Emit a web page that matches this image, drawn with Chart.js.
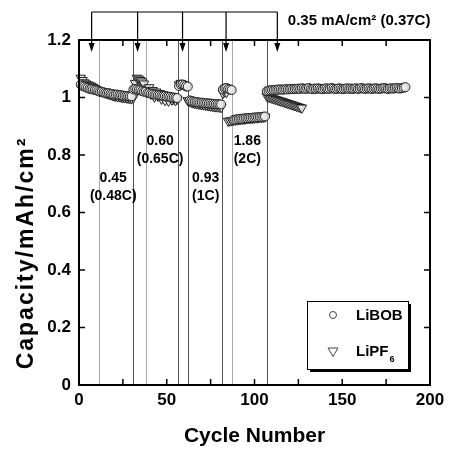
<!DOCTYPE html>
<html>
<head>
<meta charset="utf-8">
<script src="https://cdn.jsdelivr.net/npm/chart.js@4"></script>
<style>
    body { margin: 0; background: #fff; }
    #wrap { width: 450px; height: 449px; position: relative; }
</style>
</head>
<body>
<div id="wrap"><canvas id="capChart"></canvas></div>
<script>
// capacity per cycle, index 0 = cycle 1
const capacity_LiBOB = [
    1.045, 1.040, 1.038, 1.035, 1.033, 1.030, 1.030, 1.028, 1.026, 1.025,
    1.022, 1.020, 1.020, 1.018, 1.016, 1.015, 1.015, 1.013, 1.012, 1.010,
    1.010, 1.010, 1.008, 1.008, 1.006, 1.006, 1.005, 1.005, 1.004, 1.004,
    1.028, 1.030, 1.028, 1.026, 1.025, 1.022, 1.020, 1.020,
    1.016, 1.015, 1.013, 1.012, 1.010, 1.010, 1.008, 1.008, 1.006, 1.005,
    1.005, 1.003, 1.003, 1.002, 1.000, 1.000, 0.999, 0.998,
    1.040, 1.045, 1.045, 1.043, 1.040, 1.038,
    0.990, 0.988, 0.986, 0.985, 0.984, 0.983, 0.982, 0.982, 0.981, 0.980,
    0.980, 0.979, 0.979, 0.978, 0.978, 0.977, 0.977, 0.976, 0.976,
    1.028, 1.032, 1.033, 1.030, 1.028, 1.026,
    0.922, 0.923, 0.924, 0.925, 0.926, 0.926, 0.927, 0.928, 0.928, 0.929,
    0.929, 0.930, 0.930, 0.931, 0.931, 0.932, 0.932, 0.933, 0.934,
    1.022, 1.024, 1.025, 1.026, 1.026, 1.027, 1.027, 1.028, 1.028, 1.027,
    1.028, 1.029, 1.028, 1.029, 1.030, 1.029, 1.030, 1.030, 1.031, 1.030,
    1.032, 1.031, 1.030, 1.031, 1.033, 1.030, 1.029, 1.031, 1.030, 1.032,
    1.031, 1.030, 1.029, 1.031, 1.032, 1.030, 1.031, 1.033, 1.031, 1.030,
    1.030, 1.032, 1.031, 1.029, 1.030, 1.031, 1.032, 1.030, 1.031, 1.030,
    1.031, 1.032, 1.030, 1.031, 1.033, 1.031, 1.030, 1.031, 1.032, 1.031,
    1.030, 1.031, 1.032, 1.031, 1.030, 1.031, 1.032, 1.033, 1.031, 1.030,
    1.031, 1.032, 1.031, 1.032, 1.033, 1.032, 1.031, 1.033, 1.034, 1.036
];

const capacity_LiPF6 = [
    1.068, 1.060, 1.052, 1.048, 1.045, 1.042, 1.040, 1.036, 1.032, 1.028,
    1.025, 1.022, 1.020, 1.018, 1.016, 1.014, 1.012, 1.010, 1.008, 1.006,
    1.005, 1.004, 1.003, 1.002, 1.000, 1.000, 0.999, 0.998, 0.997, 0.996,
    1.000, 1.050, 1.068, 1.065, 1.060, 1.055, 1.048,
    1.030, 1.020, 1.035, 1.012, 1.025, 1.002, 1.020, 1.005, 1.015, 0.995,
    1.010, 0.990, 1.005, 0.988, 1.000, 0.992, 0.995, 0.990, 0.995,
    1.045, 1.050, 1.046, 1.042, 1.040,
    0.990, 0.986, 0.984, 0.982, 0.980, 0.979, 0.978, 0.977, 0.976, 0.975,
    0.974, 0.973, 0.972, 0.971, 0.970, 0.969, 0.968, 0.968, 0.967, 0.966,
    1.015, 1.020, 1.018,
    0.918, 0.919, 0.920, 0.921, 0.922, 0.923, 0.923, 0.924, 0.925, 0.925,
    0.926, 0.927, 0.927, 0.928, 0.928, 0.929, 0.930, 0.930, 0.931, 0.931,
    0.932, 0.933,
    1.005, 1.002, 1.000, 0.998, 0.996, 0.994, 0.992, 0.990, 0.988, 0.986,
    0.984, 0.982, 0.980, 0.978, 0.976, 0.974, 0.972, 0.970, 0.968, 0.966,
    0.964
];

// cycles where the current density changes
const switchLight = [11.6, 38.2, 87];
const switchDark = [30.6, 56.6, 62.3, 81.3, 107];
// 0.35 mA/cm2 recovery cycles (bracket arrows)
const recoveryCycles = [7.2, 33.4, 59, 83.8, 113];

const rateText = [
    ['0.45', '(0.48C)'],
    ['0.60', '(0.65C)'],
    ['0.93', '(1C)'],
    ['1.86', '(2C)']
];
const rateTextAt = [[19.5, 0.72], [46.2, 0.849], [72.2, 0.72], [95.9, 0.849]];

const FONT = "'Liberation Sans', Arial, sans-serif";

const toPoints = (arr) => arr.map((v, i) => ({ x: i + 1, y: v }));

function drawDownTriangle(ctx, cx, cy, r) {
    ctx.beginPath();
    ctx.moveTo(cx - r, cy - r * 0.6);
    ctx.lineTo(cx + r, cy - r * 0.6);
    ctx.lineTo(cx, cy + r * 1.1);
    ctx.closePath();
}

const overlay = {
    id: 'overlay',
    beforeDatasetsDraw(chart) {
        const { ctx, chartArea: a, scales: { x } } = chart;
        ctx.save();
        ctx.lineWidth = 1;
        switchLight.forEach(c => {
            const px = Math.round(x.getPixelForValue(c)) + 0.5;
            ctx.strokeStyle = '#a8a8a8';
            ctx.beginPath(); ctx.moveTo(px, a.top); ctx.lineTo(px, a.bottom); ctx.stroke();
        });
        switchDark.forEach(c => {
            const px = Math.round(x.getPixelForValue(c)) + 0.5;
            ctx.strokeStyle = '#555';
            ctx.beginPath(); ctx.moveTo(px, a.top); ctx.lineTo(px, a.bottom); ctx.stroke();
        });
        ctx.restore();
    },
    afterDraw(chart) {
        const { ctx, chartArea: a, scales: { x, y } } = chart;
        ctx.save();

        // frame
        ctx.strokeStyle = '#000';
        ctx.lineWidth = 2;
        ctx.strokeRect(a.left, a.top, a.right - a.left, a.bottom - a.top);

        // inward ticks on all four sides
        ctx.lineWidth = 1.5;
        ctx.beginPath();
        for (let c = 0; c <= 200; c += 25) {
            const px = x.getPixelForValue(c);
            ctx.moveTo(px, a.bottom); ctx.lineTo(px, a.bottom - 6);
            ctx.moveTo(px, a.top); ctx.lineTo(px, a.top + 6);
        }
        for (let v = 0; v <= 1.2001; v += 0.2) {
            const py = y.getPixelForValue(v);
            ctx.moveTo(a.left, py); ctx.lineTo(a.left + 6, py);
            ctx.moveTo(a.right, py); ctx.lineTo(a.right - 6, py);
        }
        ctx.stroke();

        // bracket for the 0.35 mA/cm2 cycles
        const top = 12;
        ctx.lineWidth = 1.2;
        ctx.beginPath();
        ctx.moveTo(x.getPixelForValue(recoveryCycles[0]), top);
        ctx.lineTo(x.getPixelForValue(recoveryCycles[recoveryCycles.length - 1]), top);
        recoveryCycles.forEach(c => {
            const px = x.getPixelForValue(c);
            ctx.moveTo(px, top); ctx.lineTo(px, a.top + 5);
        });
        ctx.stroke();
        ctx.fillStyle = '#000';
        recoveryCycles.forEach(c => {
            const px = x.getPixelForValue(c);
            ctx.beginPath();
            ctx.moveTo(px - 3, a.top + 3);
            ctx.lineTo(px + 3, a.top + 3);
            ctx.lineTo(px, a.top + 12);
            ctx.closePath();
            ctx.fill();
        });

        ctx.fillStyle = '#000';
        ctx.font = 'bold 15px ' + FONT;
        ctx.textBaseline = 'middle';
        ctx.textAlign = 'left';
        ctx.fillText('0.35 mA/cm\u00B2 (0.37C)', x.getPixelForValue(119), 21);

        // rate labels
        ctx.textAlign = 'center';
        ctx.font = 'bold 14px ' + FONT;
        rateText.forEach((lines, i) => {
            const px = x.getPixelForValue(rateTextAt[i][0]);
            const py = y.getPixelForValue(rateTextAt[i][1]);
            lines.forEach((t, k) => ctx.fillText(t, px, py + k * 18));
        });

        // y axis title
        ctx.save();
        ctx.translate(27, 253);
        ctx.rotate(-Math.PI / 2);
        ctx.font = 'bold 23px ' + FONT;
        ctx.letterSpacing = '2px';
        ctx.textAlign = 'center';
        ctx.fillText('Capacity/mAh/cm\u00B2', 0, 0);
        ctx.restore();

        // legend box with shadow
        const lx = 307, ly = 301, lw = 101, lh = 68;
        ctx.fillStyle = '#000';
        ctx.fillRect(lx + 3, ly + 3, lw, lh);
        ctx.fillStyle = '#fff';
        ctx.fillRect(lx, ly, lw, lh);
        ctx.lineWidth = 1;
        ctx.strokeStyle = '#000';
        ctx.strokeRect(lx + 0.5, ly + 0.5, lw, lh);

        ctx.strokeStyle = '#444';
        ctx.beginPath();
        ctx.arc(333, 315, 3.5, 0, Math.PI * 2);
        ctx.stroke();
        drawDownTriangle(ctx, 333, 351, 5);
        ctx.stroke();

        ctx.fillStyle = '#000';
        ctx.textAlign = 'left';
        ctx.font = 'bold 15px ' + FONT;
        ctx.fillText('LiBOB', 356, 316);
        ctx.fillText('LiPF', 356, 352);
        const w = ctx.measureText('LiPF').width;
        ctx.font = 'bold 9px ' + FONT;
        ctx.fillText('6', 356 + w + 1, 360);

        ctx.restore();
    }
};

const config_cap = {
    type: 'scatter',
    data: {
        datasets: [{
            label: 'LiBOB',
            data: toPoints(capacity_LiBOB),
            pointStyle: 'circle',
            pointRadius: 4.5,
            borderColor: '#222',
            backgroundColor: 'rgba(235, 235, 235, 0.8)',
            borderWidth: 1,
            clip: false,
            order: 1
        }, {
            label: 'LiPF6',
            data: toPoints(capacity_LiPF6),
            pointStyle: 'triangle',
            pointRotation: 180,
            pointRadius: 5.5,
            borderColor: '#222',
            backgroundColor: 'rgba(235, 235, 235, 0.8)',
            borderWidth: 1,
            clip: false,
            order: 2
        }]
    },
    options: {
        responsive: true,
        maintainAspectRatio: false,
        animation: false,
        layout: { padding: { top: 40, right: 20, left: 0, bottom: 0 } },
        scales: {
            x: {
                type: 'linear',
                min: 0,
                max: 200,
                grid: { display: false, drawTicks: false },
                border: { display: false },
                ticks: {
                    stepSize: 50,
                    color: '#000',
                    padding: 5,
                    font: { family: FONT, size: 17, weight: 'bold' }
                },
                title: {
                    display: true,
                    text: 'Cycle Number',
                    color: '#000',
                    padding: { top: 0, bottom: 0 },
                    font: { family: FONT, size: 21, weight: 'bold' }
                },
                afterFit: (s) => { s.height = 64; }
            },
            y: {
                min: 0,
                max: 1.2,
                grid: { display: false, drawTicks: false },
                border: { display: false },
                ticks: {
                    stepSize: 0.2,
                    color: '#000',
                    padding: 8,
                    font: { family: FONT, size: 17, weight: 'bold' },
                    callback: (v) => String(Number(v.toFixed(1)))
                },
                afterFit: (s) => { s.width = 79; }
            }
        },
        plugins: {
            legend: { display: false },
            tooltip: { enabled: false }
        }
    },
    plugins: [overlay]
};

const myChart_Cap = new Chart(
    document.getElementById('capChart'),
    config_cap
);
</script>
</body>
</html>
